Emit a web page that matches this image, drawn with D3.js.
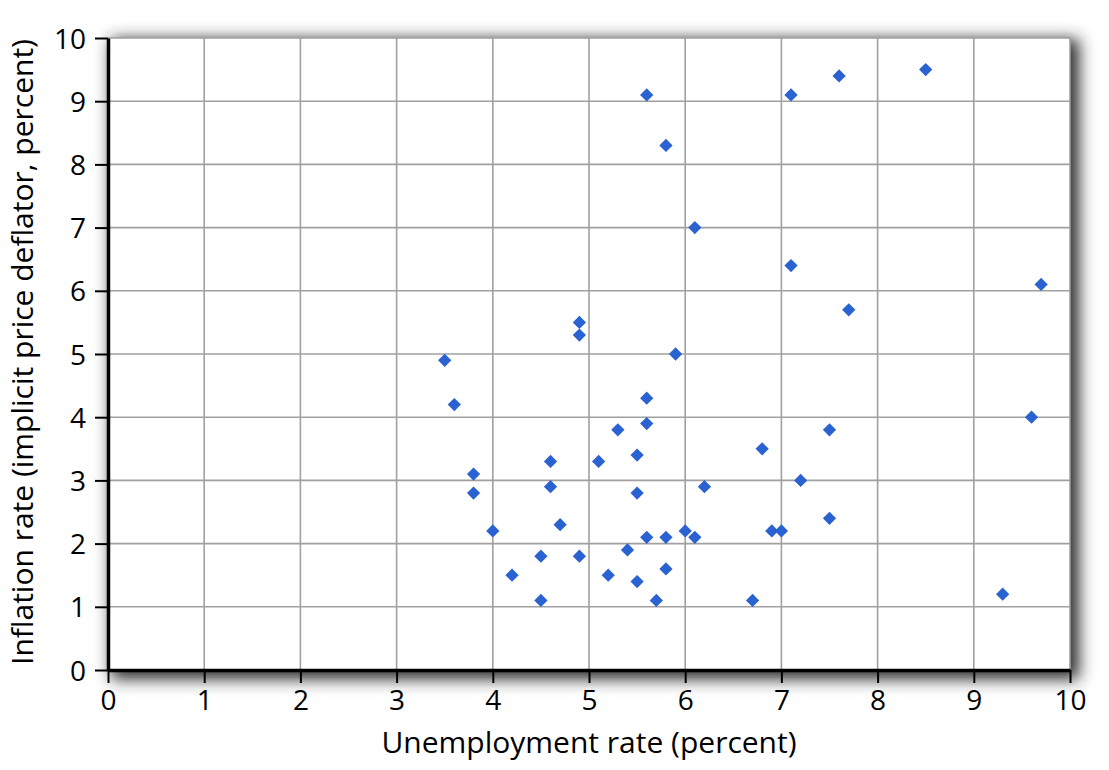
<!DOCTYPE html>
<html><head><meta charset="utf-8">
<script src="https://cdn.jsdelivr.net/npm/d3@7"></script>
<style>html,body{margin:0;padding:0;background:#fff;}</style>
</head><body>
<script>
const unemployment = [3.5,3.6,3.8,3.8,4.0,4.2,4.5,4.5,4.6,4.6,4.7,4.9,4.9,4.9,5.1,5.2,5.3,5.4,5.5,5.5,5.5,5.6,5.6,5.6,5.6,5.7,5.8,5.8,5.8,5.9,6.0,6.1,6.1,6.2,6.7,6.8,6.9,7.0,7.1,7.1,7.2,7.5,7.5,7.6,7.7,8.5,9.3,9.6,9.7];
const inflation    = [4.9,4.2,3.1,2.8,2.2,1.5,1.8,1.1,3.3,2.9,2.3,5.5,5.3,1.8,3.3,1.5,3.8,1.9,3.4,2.8,1.4,9.1,4.3,3.9,2.1,1.1,8.3,2.1,1.6,5.0,2.2,7.0,2.1,2.9,1.1,3.5,2.2,2.2,9.1,6.4,3.0,3.8,2.4,9.4,5.7,9.5,1.2,4.0,6.1];
const xTicks = [0,1,2,3,4,5,6,7,8,9,10];
const yTicks = [0,1,2,3,4,5,6,7,8,9,10];
const xTitle = "Unemployment rate (percent)";
const yTitle = "Inflation rate (implicit price deflator, percent)";

const W = 1109, H = 770;
const m = {left:108, right:39, top:38, bottom:100};
const svg = d3.select("body").append("svg").attr("width",W).attr("height",H);
const font = "'Open Sans', sans-serif";

const x = d3.scaleLinear().domain([0,10]).range([m.left, W-m.right]);
const y = d3.scaleLinear().domain([0,10]).range([H-m.bottom, m.top]);

const defs = svg.append("defs");
const f = defs.append("filter").attr("id","sh").attr("x","-20%").attr("y","-20%").attr("width","140%").attr("height","140%");
f.append("feGaussianBlur").attr("in","SourceGraphic").attr("stdDeviation",8);

svg.append("rect").attr("x",x(0)+3).attr("y",y(10)+1).attr("width",x(10)-x(0)+6).attr("height",y(0)-y(10)+8)
  .attr("fill","#2a2a2a").attr("filter","url(#sh)");
svg.append("rect").attr("x",x(0)).attr("y",y(10)).attr("width",x(10)-x(0)).attr("height",y(0)-y(10)).attr("fill","#fff");

// grid
svg.append("g").selectAll("line").data(xTicks.filter(d=>d>0)).join("line")
  .attr("x1",d=>x(d)).attr("x2",d=>x(d)).attr("y1",y(0)).attr("y2",y(10))
  .attr("stroke","#a0a0a0").attr("stroke-width",1.6);
svg.append("g").selectAll("line").data(yTicks.filter(d=>d>0)).join("line")
  .attr("x1",x(0)).attr("x2",x(10)).attr("y1",d=>y(d)).attr("y2",d=>y(d))
  .attr("stroke","#a0a0a0").attr("stroke-width",1.6);

// axes
const xa = svg.append("g").attr("transform",`translate(0,${y(0)})`)
  .call(d3.axisBottom(x).tickValues(xTicks).tickSize(13).tickSizeOuter(0).tickPadding(7).tickFormat(d3.format("d")));
const ya = svg.append("g").attr("transform",`translate(${x(0)},0)`)
  .call(d3.axisLeft(y).tickValues(yTicks).tickSize(13).tickSizeOuter(0).tickPadding(9).tickFormat(d3.format("d")));
[xa,ya].forEach(a=>{
  a.select(".domain").attr("stroke","#000").attr("stroke-width",3.5);
  a.selectAll(".tick line").attr("stroke","#000").attr("stroke-width",2);
  a.selectAll(".tick text").attr("font-family",font).attr("font-size",28).attr("fill","#000");
});
ya.selectAll(".tick text").attr("dy","0.36em");

// points
const sym = d3.symbol().type(d3.symbolSquare).size(88);
svg.append("g").selectAll("path").data(unemployment.map((u,i)=>[u,inflation[i]])).join("path")
  .attr("d",sym).attr("transform",d=>`translate(${x(d[0])},${y(d[1])}) rotate(45)`)
  .attr("fill","#2a62d2");

svg.append("text").attr("x",(x(0)+x(10))/2).attr("y",753).attr("text-anchor","middle")
  .attr("font-family",font).attr("font-size",30).attr("fill","#000").text(xTitle);
svg.append("text").attr("transform",`translate(33,352) rotate(-90)`).attr("text-anchor","middle")
  .attr("font-family",font).attr("font-size",30).attr("fill","#000").text(yTitle);
</script>
</body></html>
